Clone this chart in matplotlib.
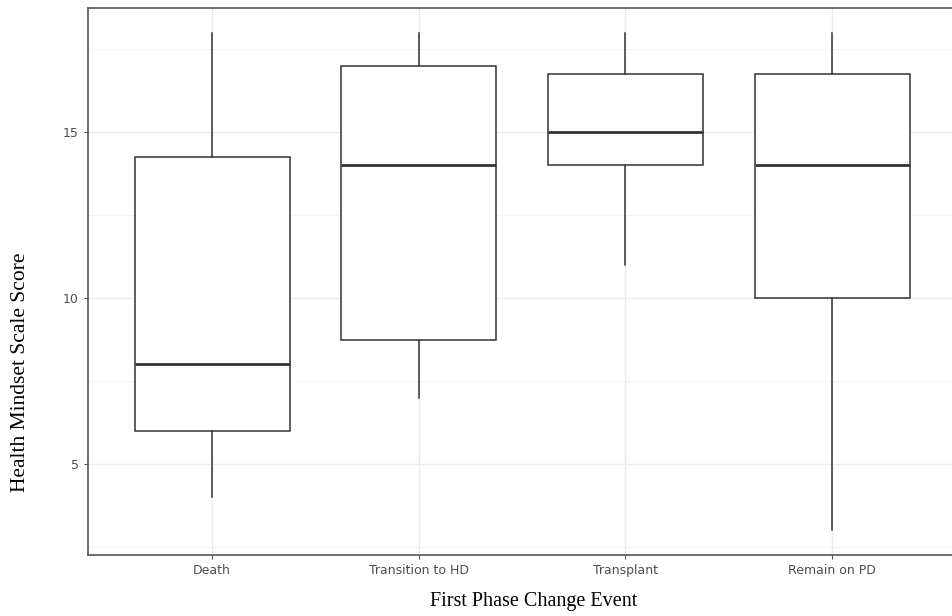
import matplotlib
matplotlib.use("Agg")
import matplotlib.pyplot as plt

# data
groups = ["Death", "Transition to HD", "Transplant", "Remain on PD"]
whislo = [4, 7, 11, 3]
q1 = [6, 8.75, 14, 10]
med = [8, 14, 15, 14]
q3 = [14.25, 17, 16.75, 16.75]
whishi = [18, 18, 18, 18]

stats = []
for i, g in enumerate(groups):
    stats.append(dict(label=g, whislo=whislo[i], q1=q1[i], med=med[i],
                      q3=q3[i], whishi=whishi[i], fliers=[]))

fig = plt.figure(figsize=(9.52, 6.16), dpi=100)
ax = fig.add_axes([88/952, 61/616, 868/952, 547/616])

edge = "#333333"
ax.bxp(stats, positions=[1, 2, 3, 4], widths=0.75, showcaps=False,
       patch_artist=True,
       boxprops=dict(facecolor="white", edgecolor=edge, linewidth=1.1),
       whiskerprops=dict(color=edge, linewidth=1.1),
       medianprops=dict(color=edge, linewidth=2.0),
       zorder=3)

ax.set_xlim(0.4, 4.6)
ax.set_ylim(2.25, 18.75)
ax.set_yticks([5, 10, 15])
ax.set_yticks([2.5, 7.5, 12.5, 17.5], minor=True)
ax.set_xticks([1, 2, 3, 4])
ax.set_xticklabels(groups)

ax.grid(True, which="major", color="#ebebeb", linewidth=1.0, zorder=0)
ax.grid(True, which="minor", axis="y", color="#f2f2f2", linewidth=0.6, zorder=0)
ax.set_axisbelow(True)

for s in ax.spines.values():
    s.set_color("#555555")
    s.set_linewidth(1.2)

ax.tick_params(axis="both", which="major", colors="#555555", length=3,
               labelsize=9, labelcolor="#4d4d4d")
ax.tick_params(axis="y", which="minor", length=0)

ax.set_xlabel("First Phase Change Event", family="Liberation Serif",
              fontsize=14.5)
ax.set_ylabel("Health Mindset Scale Score", family="Liberation Serif",
              fontsize=15.5)
ax.xaxis.set_label_coords(0.513, -0.068)
ax.yaxis.set_label_coords(-0.067, 0.335)

fig.savefig("out.png", dpi=100)
